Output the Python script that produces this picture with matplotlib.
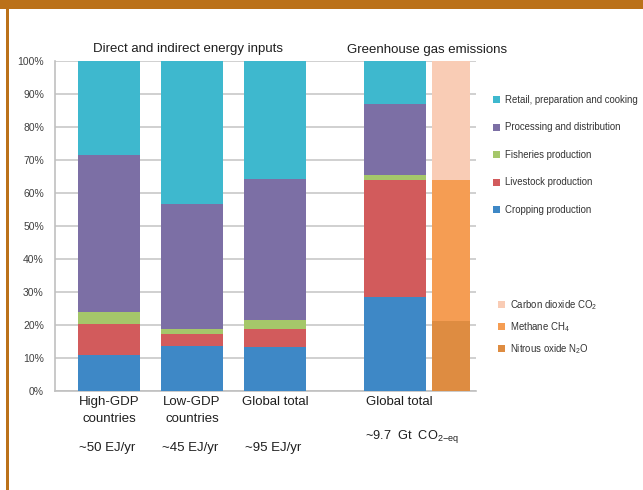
import matplotlib
matplotlib.use("Agg")
import matplotlib.pyplot as plt
from matplotlib.patches import Patch, Rectangle
import matplotlib.transforms as mtrans

FONT = ['Liberation Sans', 'DejaVu Sans']
plt.rcParams['font.family'] = FONT
plt.rcParams['mathtext.fontset'] = 'custom'
plt.rcParams['mathtext.rm'] = 'Liberation Sans'
plt.rcParams['mathtext.it'] = 'Liberation Sans:italic'
plt.rcParams['mathtext.bf'] = 'Liberation Sans:bold'

# ---- data ----
energy_cats = ["High-GDP\ncountries", "Low-GDP\ncountries", "Global total"]
energy_units = ["~50 EJ/yr", "~45 EJ/yr", "~95 EJ/yr"]
stages = ["Cropping production", "Livestock production", "Fisheries production",
          "Processing and distribution", "Retail, preparation and cooking"]
cropping = [10.7, 13.6, 13.3]
livestock = [9.4, 3.7, 5.4]
fisheries = [3.8, 1.5, 2.6]
processing = [47.7, 37.9, 43.0]
retail = [28.4, 43.3, 35.7]
energy_series = [cropping, livestock, fisheries, processing, retail]

ghg_cat = "Global total"
ghg_unit = "~9.7  Gt  CO$_{2\\mathrm{-eq}}$"
ghg_stages = [28.3, 35.6, 1.6, 21.5, 13.0]

gases = ["Carbon dioxide CO$_2$", "Methane CH$_4$", "Nitrous oxide N$_2$O"]
gas_values = [36.1, 42.7, 21.2]   # CO2, CH4, N2O

stage_colors = ["#3E88C6", "#D25B5C", "#A5C76A", "#7C6FA5", "#3EB8CE"]
gas_colors = ["#F9CCB5", "#F59D53", "#DE8C41"]

# ---- figure ----
fig = plt.figure(figsize=(6.43, 4.90), dpi=100)
fig.patch.set_facecolor("white")

W, H = 643, 490
ax = fig.add_axes([55 / W, 1 - 390.7 / H, (476 - 55) / W, (390.7 - 61) / H])

energy_x = [0, 1, 2]
ghg_x = 3.446
gas_x = 4.12
bw = 0.747
gw = 0.46

bottoms = [0.0, 0.0, 0.0]
for vals, col in zip(energy_series, stage_colors):
    ax.bar(energy_x, vals, bw, bottom=bottoms, color=col, zorder=3, linewidth=0)
    bottoms = [b + v for b, v in zip(bottoms, vals)]

b = 0.0
for v, col in zip(ghg_stages, stage_colors):
    ax.bar([ghg_x], [v], bw, bottom=[b], color=col, zorder=3, linewidth=0)
    b += v

b = 0.0
for v, col in zip(gas_values[::-1], gas_colors[::-1]):
    ax.bar([gas_x], [v], gw, bottom=[b], color=col, zorder=3, linewidth=0)
    b += v

ax.set_xlim(-0.651, 4.42)
ax.set_ylim(0, 100)
ax.set_yticks(range(0, 101, 10))
ax.set_yticklabels([f"{t}%" for t in range(0, 101, 10)])
ax.tick_params(axis='y', length=0, pad=8, labelsize=7.5, labelcolor="#404040")
ax.set_xticks([])
ax.grid(axis='y', color="#C8C8C8", linewidth=1.2, zorder=0)
for s in ["top", "right"]:
    ax.spines[s].set_visible(False)
for s in ["left", "bottom"]:
    ax.spines[s].set_color("#C0C0C0")
    ax.spines[s].set_linewidth(1.2)

# x labels
TXT = "#1E1E1E"
trans = mtrans.blended_transform_factory(ax.transData, fig.transFigure)
for x, lab, unit in zip(energy_x, energy_cats, energy_units):
    ax.text(x, 1 - 396 / H, lab, transform=trans, ha='center', va='top',
            fontsize=9.5, color=TXT, linespacing=1.5)
    ax.text(x - 0.02, 1 - 448 / H, unit, transform=trans, ha='center', va='center',
            fontsize=9.5, color=TXT)
ax.text(ghg_x + 0.05, 1 - 396 / H, ghg_cat, transform=trans, ha='center', va='top',
        fontsize=9.5, color=TXT)
ax.text(ghg_x + 0.2, 1 - 436 / H, ghg_unit, transform=trans, ha='center', va='center',
        fontsize=9.2, color=TXT)

# titles
fig.text(188 / W, 1 - 49 / H, "Direct and indirect energy inputs", ha='center',
         va='center', fontsize=9.5, color=TXT)
fig.text(427 / W, 1 - 50 / H, "Greenhouse gas emissions", ha='center',
         va='center', fontsize=9.5, color=TXT)

# legends
h1 = [Patch(facecolor=c, edgecolor='none') for c in stage_colors[::-1]]
leg1 = fig.legend(h1, stages[::-1], loc='upper left',
                  bbox_to_anchor=(489 / W, 1 - 91 / H), frameon=False,
                  fontsize=6.9, handlelength=0.75, handleheight=0.75,
                  handletextpad=0.5, labelspacing=1.83, borderaxespad=0)
for t in leg1.get_texts():
    t.set_color("#333333")

h2 = [Patch(facecolor=c, edgecolor='none') for c in gas_colors]
leg2 = fig.legend(h2, gases, loc='upper left',
                  bbox_to_anchor=(494 / W, 1 - 294 / H), frameon=False,
                  fontsize=6.9, handlelength=0.75, handleheight=0.75,
                  handletextpad=0.5, labelspacing=0.85, borderaxespad=0)
for t in leg2.get_texts():
    t.set_color("#333333")

# brown frame
brown = "#BB7119"
fig.patches.append(Rectangle((0, 1 - 9 / H), 1, 9 / H, transform=fig.transFigure,
                             facecolor=brown, edgecolor='none', zorder=10))
fig.patches.append(Rectangle((6 / W, 0), 3 / W, 1, transform=fig.transFigure,
                             facecolor=brown, edgecolor='none', zorder=10))

fig.savefig("out.png", dpi=100)
